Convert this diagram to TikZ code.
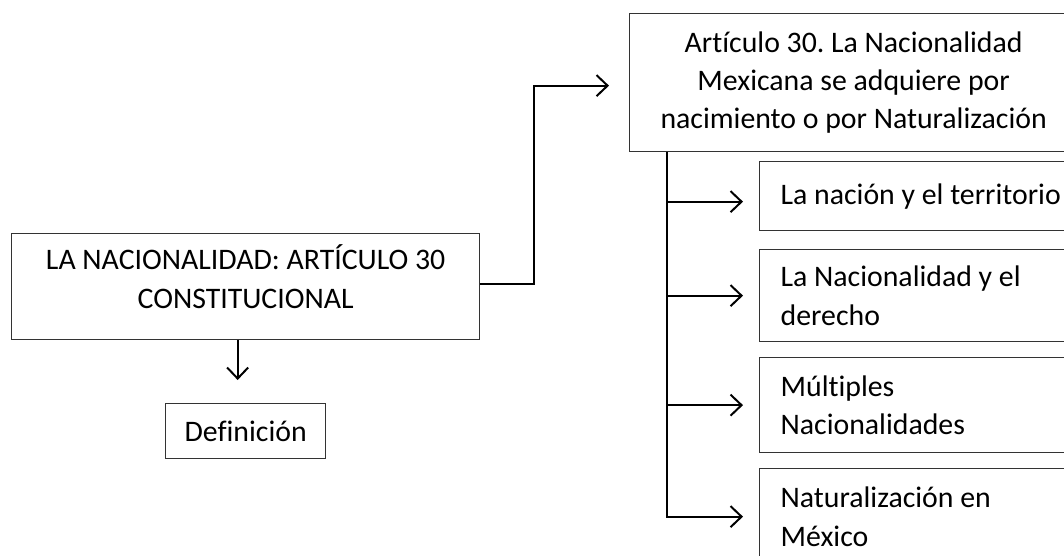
\documentclass[tikz,border=0pt]{standalone}
\usepackage{fontspec}
\setmainfont{Carlito}[Ligatures=NoCommon]
\usetikzlibrary{arrows.meta}
\frenchspacing

\begin{document}
\begin{tikzpicture}[x=0.5pt, y=-0.5pt,
    box/.style={draw=black!80, line width=0.65pt, inner sep=0pt,
        font=\fontsize{14.9}{19.2}\selectfont},
    item/.style={box, anchor=north west, inner xsep=10.5pt,
        text width=150pt, align=flush left},
    conn/.style={line width=1pt, -{Straight Barb[length=5.5pt,width=10.5pt]}}]

        % Page frame
        \useasboundingbox (0,0) rectangle (1064,556);
        \clip (0,0) rectangle (1064,556);

        % Main box and definition
        \node[box, anchor=north west, minimum width=234pt, minimum height=53pt, align=center]
            (main) at (11,233) {LA NACIONALIDAD: ARTÍCULO 30\\CONSTITUCIONAL\\[-9pt]\mbox{}};
        \node[box, anchor=north west, minimum width=80pt, minimum height=27.5pt]
            (def) at (165,403) {Definición};

        % Article box
        \node[box, anchor=north west, minimum width=224pt, minimum height=69pt, align=center]
            (art) at (629,13) {Artículo 30. La Nacionalidad\\Mexicana se adquiere por\\nacimiento o por Naturalización};

        % Topics
        \node[item, minimum height=34.5pt] (nacion) at (759,161) {La nación y el territorio};
        \node[item, minimum height=46pt] (derecho) at (759,249) {La Nacionalidad y el\\derecho};
        \node[item, minimum height=47.5pt] (multiples) at (759,357) {Múltiples\\Nacionalidades};
        \node[item, minimum height=48pt] (natural) at (759,468) {Naturalización en\\México};

        % Connectors
        \draw[conn] ([xshift=-4pt]main.south) -- ([xshift=-4pt,yshift=11.5pt]def.north);
        \draw[conn] ([yshift=1.5pt]main.east) -- ++(27pt,0) |- ([xshift=-10pt,yshift=-1.5pt]art.west);

        % Trunk with branches
        \coordinate (trunk) at ([xshift=19pt]art.south west);
        \coordinate (nacionin) at ([xshift=-8pt,yshift=-2.75pt]nacion.west);
        \draw[conn] (trunk) |- ([xshift=-8pt]natural.west);
        \draw[conn] (trunk |- nacionin) -- (nacionin);
        \draw[conn] (trunk |- derecho.west) -- ([xshift=-8pt]derecho.west);
        \draw[conn] (trunk |- multiples.west) -- ([xshift=-8pt]multiples.west);

\end{tikzpicture}
\end{document}
